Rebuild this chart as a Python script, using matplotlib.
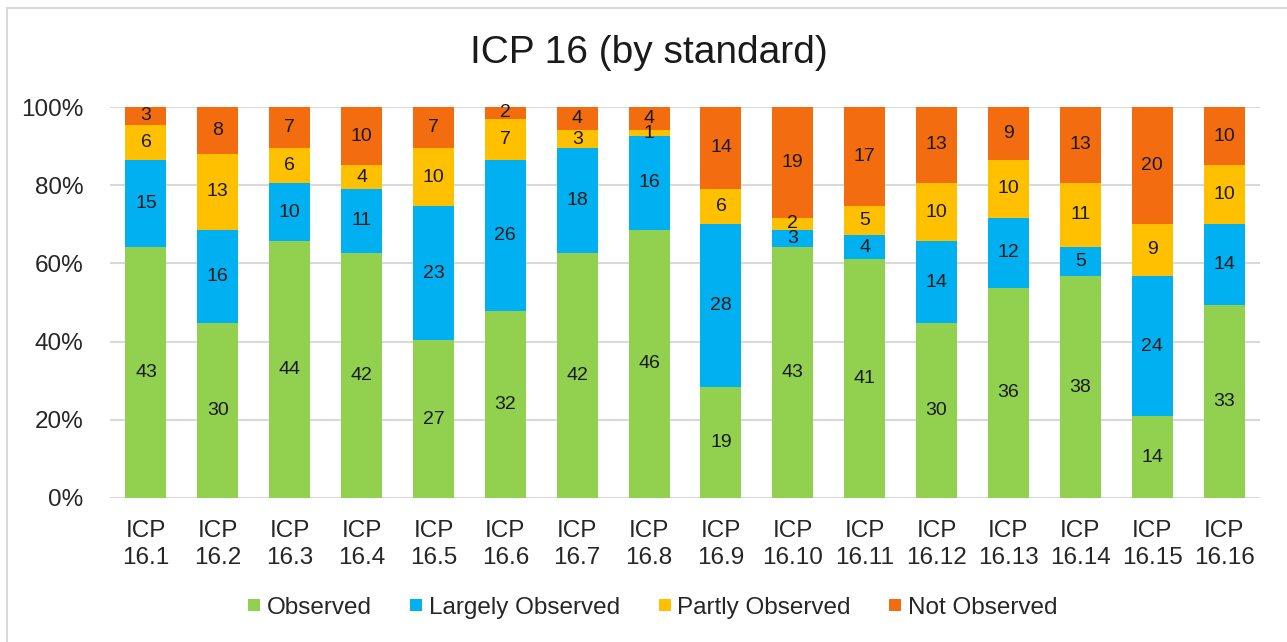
import numpy as np
import matplotlib.pyplot as plt
from matplotlib.lines import Line2D

plt.rcParams["font.family"] = ["Liberation Sans", "DejaVu Sans"]

standards = ["ICP\n16.%d" % i for i in range(1, 17)]
observed = [43, 30, 44, 42, 27, 32, 42, 46, 19, 43, 41, 30, 36, 38, 14, 33]
largely = [15, 16, 10, 11, 23, 26, 18, 16, 28, 3, 4, 14, 12, 5, 24, 14]
partly = [6, 13, 6, 4, 10, 7, 3, 1, 6, 2, 5, 10, 10, 11, 9, 10]
not_obs = [3, 8, 7, 10, 7, 2, 4, 4, 14, 19, 17, 13, 9, 13, 20, 10]

series_names = ["Observed", "Largely Observed", "Partly Observed", "Not Observed"]
colors = ["#92D050", "#00B0F0", "#FFC000", "#F36C10"]

counts = np.array([observed, largely, partly, not_obs], dtype=float)
shares = counts / counts.sum(axis=0)

fig = plt.figure(figsize=(12.87, 6.42), dpi=100)
ax = fig.add_axes([0.0855, 0.2243, 0.8935, 0.609])

x = np.arange(len(standards))
bottom = np.zeros(len(standards))
for k in range(4):
    ax.bar(x, shares[k], 0.57, bottom=bottom, color=colors[k], linewidth=0, zorder=3,
           label=series_names[k])
    for i in range(len(standards)):
        ax.text(x[i], bottom[i] + shares[k][i] / 2, "%d" % counts[k][i],
                ha="center", va="center", fontsize=14, color="#1a1a1a", zorder=4)
    bottom += shares[k]

ax.set_xlim(-0.5, len(standards) - 0.5)
ax.set_ylim(0, 1)
ax.set_yticks(np.linspace(0, 1, 6))
ax.set_yticklabels(["0%", "20%", "40%", "60%", "80%", "100%"])
ax.set_xticks(x)
ax.set_xticklabels(standards, linespacing=1.27)
ax.tick_params(axis="y", length=0, pad=19, labelsize=17.5, labelcolor="#262626")
ax.tick_params(axis="x", length=0, pad=16, labelsize=17.5, labelcolor="#262626")
ax.grid(axis="y", color="#D9D9D9", linewidth=1.5, zorder=0)
for s in ax.spines.values():
    s.set_visible(False)

fig.text(0.504, 0.917, "ICP 16 (by standard)", ha="center", va="center",
         fontsize=28, color="#1a1a1a")

handles = [Line2D([], [], marker="s", linestyle="none", markersize=9,
                  markerfacecolor=c, markeredgewidth=0) for c in colors]
fig.legend(handles, series_names, loc="center", bbox_to_anchor=(0.507, 0.053),
           ncol=4, frameon=False, fontsize=17.5, handlelength=0.55, handletextpad=0.25,
           columnspacing=1.55, labelcolor="#262626")

# chart border (left and top edges visible)
fig.add_artist(Line2D([7 / 1287, 7 / 1287], [0, 1 - 8 / 642], color="#D9D9D9", lw=1.5))
fig.add_artist(Line2D([7 / 1287, 1], [1 - 8 / 642, 1 - 8 / 642], color="#D9D9D9", lw=1.5))

fig.savefig("out.png", dpi=100, facecolor="white")
